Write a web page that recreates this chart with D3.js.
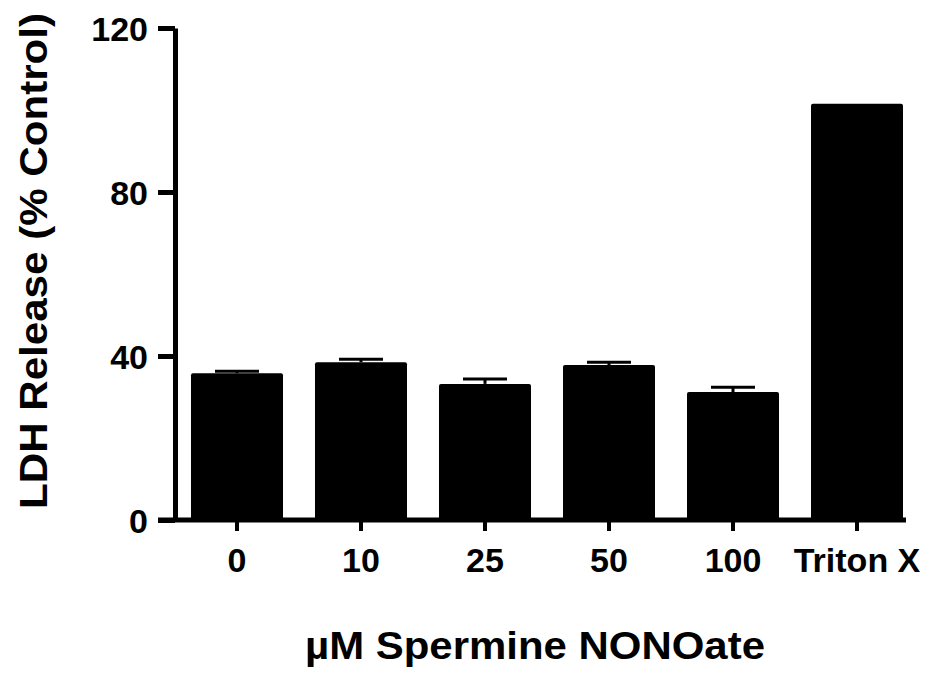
<!DOCTYPE html>
<html>
<head>
<meta charset="utf-8">
<script src="https://cdn.jsdelivr.net/npm/d3@7"></script>
<style>
  body { margin: 0; background: #fff; }
  text { font-family: "Liberation Sans", Arial, sans-serif; font-weight: bold; }
</style>
</head>
<body>
<div class="graph1"></div>
<script>
let width = 936;
let height = 675;

// données
let categories = ["0", "10", "25", "50", "100", "Triton X"];
let moyennes = [35.8, 38.5, 33.2, 37.8, 31.2, 101.5];
let erreurs = [0.5, 0.7, 1.2, 0.7, 1.2, 0];
let yTicks = [0, 40, 80, 120];

let svg = d3.select('.graph1')
    .append('svg')
    .attr('width', width)
    .attr('height', height);

let x = d3.scaleBand()
    .domain(categories)
    .range([159, 935])
    .paddingInner(0.258)
    .paddingOuter(0.258);

let y = d3.scaleLinear()
    .domain([0, 120])
    .range([520, 28]);

// barres
svg.selectAll('rect.barre')
    .data(moyennes)
    .enter()
    .append('rect')
    .attr('class', 'barre')
    .attr('x', (d, i) => x(categories[i]))
    .attr('y', d => y(d))
    .attr('width', x.bandwidth())
    .attr('height', d => y(0) - y(d))
    .attr('rx', 2)
    .attr('fill', '#000');

// barres d'erreur (SEM, vers le haut)
moyennes.forEach(function (d, i) {
    if (!erreurs[i]) return;
    let cx = x(categories[i]) + x.bandwidth() / 2;
    svg.append('line')
        .attr('x1', cx).attr('x2', cx)
        .attr('y1', y(d)).attr('y2', y(d + erreurs[i]))
        .attr('stroke', '#000').attr('stroke-width', 3);
    svg.append('line')
        .attr('x1', cx - 22).attr('x2', cx + 22)
        .attr('y1', y(d + erreurs[i])).attr('y2', y(d + erreurs[i]))
        .attr('stroke', '#000').attr('stroke-width', 3);
});

// axe Y
let axeY = svg.append('g')
    .attr('transform', 'translate(175,0)')
    .call(d3.axisLeft(y).tickValues(yTicks).tickSize(17).tickSizeOuter(0).tickPadding(10));
axeY.select('.domain').attr('stroke-width', 5);
axeY.selectAll('.tick line').attr('stroke-width', 5);
axeY.selectAll('.tick text')
    .attr('font-size', 34)
    .attr('fill', '#000')
    .attr('dy', '0.36em');

// axe X
let axeX = svg.append('g')
    .attr('transform', 'translate(0,520)')
    .call(d3.axisBottom(x).tickSize(11).tickSizeOuter(0).tickPadding(17));
axeX.select('.domain').remove();
axeX.selectAll('.tick line').attr('stroke-width', 4);
axeX.selectAll('.tick text')
    .attr('font-size', 34)
    .attr('fill', '#000');
svg.append('line')
    .attr('x1', 158)
    .attr('x2', x(categories[categories.length - 1]) + x.bandwidth() + 3)
    .attr('y1', y(0)).attr('y2', y(0))
    .attr('stroke', '#000')
    .attr('stroke-width', 5);

// titres
svg.append('text')
    .attr('x', 535)
    .attr('y', 659)
    .attr('text-anchor', 'middle')
    .attr('font-size', 39)
    .attr('textLength', 460)
    .attr('lengthAdjust', 'spacingAndGlyphs')
    .text('µM Spermine NONOate');

svg.append('text')
    .attr('transform', 'translate(47,261) rotate(-90)')
    .attr('text-anchor', 'middle')
    .attr('font-size', 39)
    .attr('textLength', 496)
    .attr('lengthAdjust', 'spacingAndGlyphs')
    .text('LDH Release (% Control)');
</script>
</body>
</html>
